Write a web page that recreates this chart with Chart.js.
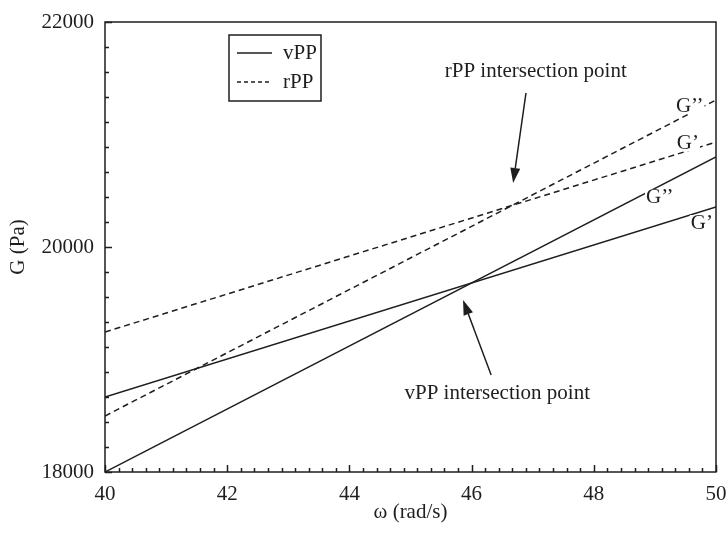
<!DOCTYPE html>
<html>
<head>
<meta charset="utf-8">
<script src="https://cdn.jsdelivr.net/npm/chart.js@4.4.1/dist/chart.umd.min.js"></script>
<style>
  html, body { margin: 0; padding: 0; background: #fff; }
  canvas { display: block; }
</style>
</head>
<body>
<canvas id="chart" width="728" height="538"></canvas>
<script>
// frequency (rad/s) at both ends of the fitted lines
const omega = [40, 50];
// storage (G') and loss (G'') moduli, Pa
const vppGp  = [18667, 20356];
const vppGpp = [18000, 20800];
const rppGp  = [19244, 20933];
const rppGpp = [18498, 21307];

const xTicks = [40, 42, 44, 46, 48, 50];
const yTicks = [18000, 20000, 22000];

const INK = '#1e1e1e';
const FONT = '"Liberation Serif", "DejaVu Serif", serif';

function pts(ys) {
    return omega.map((x, i) => ({ x: x, y: ys[i] }));
}

function lineSet(label, ys, dash) {
    return {
        label: label,
        data: pts(ys),
        borderColor: INK,
        borderWidth: 1.5,
        borderDash: dash,
        pointRadius: 0,
        fill: false,
        tension: 0
    };
}

// text labels, positions given in axis units
const curveLabels = [
    { text: 'G’’', x: 49.57, y: 21253 },
    { text: 'G’',  x: 49.54, y: 20924 },
    { text: 'G’’', x: 49.08, y: 20444 },
    { text: 'G’',  x: 49.77, y: 20213 }
];
const notes = [
    { text: 'rPP intersection point', x: 47.05, y: 21556, from: [46.89, 21369], to: [46.68, 20569] },
    { text: 'vPP intersection point', x: 46.42, y: 18702, from: [46.32, 18862], to: [45.86, 19529] }
];

// box, inward tick marks, legend and annotations
const decorations = {
    id: 'decorations',
    afterDatasetsDraw(chart) {
        const { ctx, chartArea: a, scales: { x, y } } = chart;
        ctx.save();
        ctx.strokeStyle = INK;
        ctx.lineWidth = 1.5;
        ctx.strokeRect(a.left, a.top, a.right - a.left, a.bottom - a.top);

        ctx.beginPath();
        for (let i = 0; i <= 45; i++) {
            const px = Math.round(x.getPixelForValue(40 + i * 2 / 9)) + 0.5;
            const len = i % 9 === 0 ? 7 : 4;
            ctx.moveTo(px, a.bottom);
            ctx.lineTo(px, a.bottom - len);
        }
        for (let i = 0; i <= 18; i++) {
            const py = Math.round(y.getPixelForValue(18000 + i * 2000 / 9)) + 0.5;
            const len = i % 9 === 0 ? 7 : 4;
            ctx.moveTo(a.left, py);
            ctx.lineTo(a.left + len, py);
        }
        ctx.stroke();

        // legend
        const lx = a.left + 124, ly = a.top + 13;
        ctx.lineWidth = 1.5;
        ctx.strokeRect(lx, ly, 92, 66);
        const entries = [{ text: 'vPP', dash: [] }, { text: 'rPP', dash: [4, 3] }];
        ctx.font = '21px ' + FONT;
        ctx.fillStyle = INK;
        ctx.textBaseline = 'middle';
        ctx.textAlign = 'left';
        entries.forEach((e, i) => {
            const yy = ly + 18 + i * 29;
            ctx.setLineDash(e.dash);
            ctx.beginPath();
            ctx.moveTo(lx + 8, yy);
            ctx.lineTo(lx + 43, yy);
            ctx.stroke();
            ctx.fillText(e.text, lx + 54, yy);
        });
        ctx.setLineDash([]);

        // curve names
        ctx.textAlign = 'center';
        curveLabels.forEach(l => {
            const px = x.getPixelForValue(l.x), py = y.getPixelForValue(l.y);
            const w = ctx.measureText(l.text).width;
            ctx.fillStyle = '#fff';
            ctx.fillRect(px - w / 2 - 1, py - 8, w + 2, 16);
            ctx.fillStyle = INK;
            ctx.fillText(l.text, px, py);
        });

        // intersection notes with arrows
        notes.forEach(n => {
            ctx.fillStyle = INK;
            ctx.fillText(n.text, x.getPixelForValue(n.x), y.getPixelForValue(n.y));
            const x0 = x.getPixelForValue(n.from[0]), y0 = y.getPixelForValue(n.from[1]);
            const x1 = x.getPixelForValue(n.to[0]), y1 = y.getPixelForValue(n.to[1]);
            const ang = Math.atan2(y1 - y0, x1 - x0);
            const head = 15, half = 5;
            const bx = x1 - head * Math.cos(ang), by = y1 - head * Math.sin(ang);
            ctx.beginPath();
            ctx.moveTo(x0, y0);
            ctx.lineTo(bx, by);
            ctx.stroke();
            ctx.beginPath();
            ctx.moveTo(x1, y1);
            ctx.lineTo(bx + half * Math.sin(ang), by - half * Math.cos(ang));
            ctx.lineTo(bx - half * Math.sin(ang), by + half * Math.cos(ang));
            ctx.closePath();
            ctx.fill();
        });
        ctx.restore();
    }
};

new Chart(document.getElementById('chart'), {
    type: 'line',
    data: {
        datasets: [
            lineSet('vPP G’', vppGp, []),
            lineSet('vPP G’’', vppGpp, []),
            lineSet('rPP G’', rppGp, [6, 4]),
            lineSet('rPP G’’', rppGpp, [6, 4])
        ]
    },
    options: {
        responsive: false,
        animation: false,
        layout: { padding: { top: 22, right: 12, left: 0, bottom: 0 } },
        plugins: {
            legend: { display: false },
            tooltip: { enabled: false }
        },
        scales: {
            x: {
                type: 'linear',
                min: 40,
                max: 50,
                afterBuildTicks: s => { s.ticks = xTicks.map(v => ({ value: v })); },
                afterFit: s => { s.height = 66; s.paddingLeft = 0; s.paddingRight = 0; },
                grid: { display: false, drawTicks: false },
                border: { display: false },
                ticks: { color: INK, padding: 10, font: { family: FONT, size: 21 } },
                title: {
                    display: true,
                    text: 'ω (rad/s)',
                    color: INK,
                    padding: { top: 0, bottom: 13 },
                    font: { family: FONT, size: 21 }
                }
            },
            y: {
                min: 18000,
                max: 22000,
                afterBuildTicks: s => { s.ticks = yTicks.map(v => ({ value: v })); },
                afterFit: s => { s.width = 105; s.paddingTop = 0; s.paddingBottom = 0; },
                grid: { display: false, drawTicks: false },
                border: { display: false },
                ticks: {
                    color: INK,
                    padding: 11,
                    font: { family: FONT, size: 21 },
                    callback: v => String(v)
                },
                title: {
                    display: true,
                    text: 'G (Pa)',
                    color: INK,
                    padding: { top: 6, bottom: 0 },
                    font: { family: FONT, size: 21 }
                }
            }
        }
    },
    plugins: [decorations]
});
</script>
</body>
</html>
